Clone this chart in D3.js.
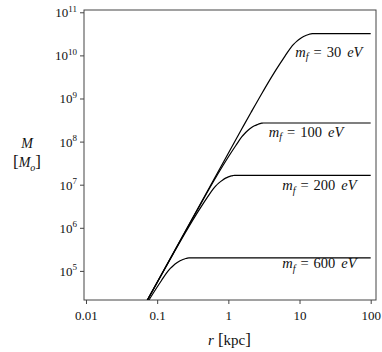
<!DOCTYPE html>
<html>
<head>
<meta charset="utf-8">
<script src="https://cdn.jsdelivr.net/npm/d3@7"></script>
<style>
  html, body { margin: 0; padding: 0; background: #fff; }
  text { font-family: "Liberation Serif", "DejaVu Serif", serif; fill: #111; }
</style>
</head>
<body>
<svg id="chart" width="382" height="352"></svg>
<script>
// ---- data ----
const fermionMasses = [30, 100, 200, 600]; // m_f in eV

const r30  = [0.07, 1.52, 2.08, 3.04, 4.16, 5.32, 6.25, 7.6, 8.31, 9.12, 10.4, 11.4, 12.5, 13.7, 14.4, 15.2, 100];
const M30  = [1.88e4, 1.88e8, 4.73e8, 1.42e9, 3.40e9, 6.43e9, 9.6e9, 1.54e10, 1.82e10, 2.11e10, 2.50e10, 2.75e10, 2.94e10, 3.10e10, 3.17e10, 3.2e10, 3.2e10];

const r100 = [0.07, 0.31, 0.425, 0.62, 0.849, 1.085, 1.274, 1.55, 1.70, 1.86, 2.12, 2.33, 2.55, 2.79, 2.95, 3.1, 100];
const M100 = [1.86e4, 1.58e6, 3.99e6, 1.20e7, 2.86e7, 5.43e7, 8.1e7, 1.30e8, 1.54e8, 1.78e8, 2.11e8, 2.32e8, 2.48e8, 2.62e8, 2.67e8, 2.7e8, 2.7e8];

const r200 = [0.07, 0.122, 0.167, 0.244, 0.334, 0.427, 0.501, 0.61, 0.667, 0.731, 0.834, 0.914, 1.0, 1.097, 1.158, 1.219, 100];
const M200 = [1.87e4, 9.69e4, 2.44e5, 7.31e5, 1.75e6, 3.32e6, 4.95e6, 7.92e6, 9.41e6, 1.09e7, 1.29e7, 1.42e7, 1.52e7, 1.60e7, 1.63e7, 1.65e7, 1.65e7];

const r600 = [0.056, 0.0767, 0.098, 0.115, 0.14, 0.153, 0.168, 0.1915, 0.21, 0.23, 0.252, 0.266, 0.28, 100];
const M600 = [8.86e3, 2.12e4, 4.02e4, 6.0e4, 9.6e4, 1.14e5, 1.32e5, 1.56e5, 1.72e5, 1.84e5, 1.94e5, 1.98e5, 2.0e5, 2.0e5];

const xTickValues = [0.01, 0.1, 1, 10, 100];
const xTickLabels = ["0.01", "0.1", "1", "10", "100"];
const yTickExponents = [5, 6, 7, 8, 9, 10, 11];

// ---- layout ----
const svg = d3.select("#chart");
const plotL = 84, plotR = 376, plotT = 10, plotB = 300;

const x = d3.scaleLog().domain([Math.pow(10, -2.028), Math.pow(10, 2.0745)]).range([plotL, plotR]);
const y = d3.scaleLog().domain([Math.pow(10, 4.325), Math.pow(10, 11.053)]).range([plotB, plotT]);

svg.append("defs").append("clipPath").attr("id", "clip")
  .append("rect").attr("x", plotL).attr("y", plotT)
  .attr("width", plotR - plotL).attr("height", plotB - plotT);

// frame
svg.append("rect")
  .attr("x", plotL).attr("y", plotT)
  .attr("width", plotR - plotL).attr("height", plotB - plotT)
  .attr("fill", "none").attr("stroke", "#444").attr("stroke-width", 1);

// x axis
const xAxis = d3.axisBottom(x).tickValues(xTickValues)
  .tickFormat((d, i) => xTickLabels[i]).tickSize(4).tickSizeOuter(0);
const gx = svg.append("g").attr("transform", `translate(0,${plotB})`).call(xAxis);
gx.select(".domain").remove();
gx.selectAll(".tick line").attr("stroke", "#444");
gx.selectAll(".tick text").attr("font-size", 13).attr("font-family", "Liberation Serif")
  .attr("dy", null).attr("y", 20).attr("fill", "#111");

// y axis
const yAxis = d3.axisLeft(y).tickValues(yTickExponents.map(e => Math.pow(10, e)))
  .tickFormat("").tickSize(4).tickSizeOuter(0);
const gy = svg.append("g").attr("transform", `translate(${plotL},0)`).call(yAxis);
gy.select(".domain").remove();
gy.selectAll(".tick line").attr("stroke", "#444");
gy.selectAll(".tick").each(function(d, i) {
  const t = d3.select(this).append("text")
    .attr("x", -7).attr("y", 4.5).attr("text-anchor", "end")
    .attr("font-size", 13).attr("fill", "#111");
  t.append("tspan").text("10");
  t.append("tspan").attr("font-size", 9).attr("dy", -5.5).text(String(yTickExponents[i]));
});

// curves
const series = [
  { m: fermionMasses[0], r: r30, M: M30 },
  { m: fermionMasses[1], r: r100, M: M100 },
  { m: fermionMasses[2], r: r200, M: M200 },
  { m: fermionMasses[3], r: r600, M: M600 }
];
const line = d3.line().x(d => x(d[0])).y(d => y(d[1])).curve(d3.curveMonotoneX);
const gc = svg.append("g").attr("clip-path", "url(#clip)");
series.forEach(s => {
  gc.append("path")
    .attr("d", line(s.r.map((rv, i) => [rv, s.M[i]])))
    .attr("fill", "none").attr("stroke", "#000").attr("stroke-width", 1.2);
});

// curve labels (anchored in data coordinates)
const labelAnchors = [
  { r: 8.7, M: 9.2e9 },
  { r: 3.7, M: 1.28e8 },
  { r: 5.7, M: 7.5e6 },
  { r: 5.7, M: 1.15e5 }
];
series.forEach((s, i) => {
  const t = svg.append("text")
    .attr("x", x(labelAnchors[i].r)).attr("y", y(labelAnchors[i].M))
    .attr("text-anchor", "start").attr("font-size", 14.5);
  t.append("tspan").attr("font-style", "italic").text("m");
  t.append("tspan").attr("font-style", "italic").attr("font-size", 10).attr("dy", 3.5).text("f");
  t.append("tspan").attr("dy", -3.5).attr("dx", 5).text("=");
  t.append("tspan").attr("dx", 5).text(String(s.m));
  t.append("tspan").attr("dx", 6).attr("font-style", "italic").text("eV");
});

// axis titles
svg.append("text").attr("x", 27).attr("y", 148).attr("text-anchor", "middle")
  .attr("font-size", 14).attr("font-style", "italic").text("M");
const yt = svg.append("text").attr("x", 27).attr("y", 167).attr("text-anchor", "middle").attr("font-size", 14);
yt.append("tspan").attr("font-size", 17).text("[");
yt.append("tspan").attr("font-style", "italic").text("M");
yt.append("tspan").attr("font-style", "italic").attr("font-size", 10).attr("dy", 3.5).text("o");
yt.append("tspan").attr("font-size", 17).attr("dy", -3.5).text("]");

const xt = svg.append("text").attr("x", 229.5).attr("y", 345).attr("text-anchor", "middle").attr("font-size", 15);
xt.append("tspan").attr("font-style", "italic").text("r");
xt.append("tspan").attr("dx", 4).attr("font-size", 17).text("[");
xt.append("tspan").text("kpc");
xt.append("tspan").attr("font-size", 17).text("]");
</script>
</body>
</html>
